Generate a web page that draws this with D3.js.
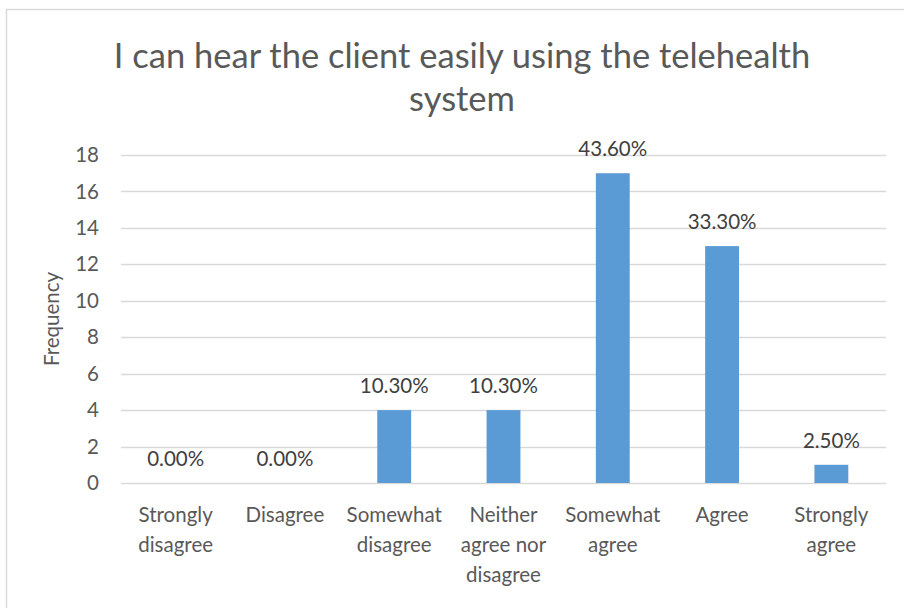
<!DOCTYPE html>
<html>
<head>
<meta charset="utf-8">
<script src="https://cdn.jsdelivr.net/npm/d3@7"></script>
<style>
  html, body { margin: 0; padding: 0; background: #fff; }
  svg { display: block; font-family: Lato, "Open Sans", sans-serif; }
</style>
</head>
<body>
<svg id="chart" width="904" height="608"></svg>
<script>
// Survey responses: "I can hear the client easily using the telehealth system"
const categories = [
  ["Strongly", "disagree"],
  ["Disagree"],
  ["Somewhat", "disagree"],
  ["Neither", "agree nor", "disagree"],
  ["Somewhat", "agree"],
  ["Agree"],
  ["Strongly", "agree"]
];
const frequencies = [0, 0, 4, 4, 17, 13, 1];
const percentLabels = ["0.00%", "0.00%", "10.30%", "10.30%", "43.60%", "33.30%", "2.50%"];
const yTicks = [0, 2, 4, 6, 8, 10, 12, 14, 16, 18];

const titleLines = ["I can hear the client easily using the telehealth", "system"];

const svg = d3.select("#chart");
const textColor = "#595959";
const margin = { left: 121, right: 18, top: 155, bottom: 125 };
const width = 904, height = 608;

// Chart area frame
svg.append("rect")
  .attr("x", 6.5).attr("y", 9.5)
  .attr("width", 910).attr("height", 610)
  .attr("fill", "none").attr("stroke", "#d9d9d9").attr("stroke-width", 1.5);

const x = d3.scaleBand()
  .domain(d3.range(categories.length))
  .range([margin.left, width - margin.right]);

const y = d3.scaleLinear()
  .domain([0, 18])
  .range([height - margin.bottom, margin.top]);

// Title
svg.append("text")
  .attr("text-anchor", "middle")
  .attr("fill", textColor)
  .attr("font-size", 34.5)
  .selectAll("tspan")
  .data(titleLines)
  .join("tspan")
  .attr("x", 462)
  .attr("y", (d, i) => 68 + i * 43)
  .text(d => d);

// Gridlines
svg.append("g")
  .selectAll("line")
  .data(yTicks)
  .join("line")
  .attr("x1", margin.left).attr("x2", width - margin.right)
  .attr("y1", d => Math.round(y(d)) + 0.5).attr("y2", d => Math.round(y(d)) + 0.5)
  .attr("stroke", "#d9d9d9").attr("stroke-width", 1.5);

// Y axis tick labels
const yAxis = d3.axisLeft(y).tickValues(yTicks).tickSize(0).tickPadding(0);
const yg = svg.append("g").attr("transform", `translate(${margin.left - 22},0)`).call(yAxis);
yg.select(".domain").remove();
yg.selectAll("text")
  .attr("fill", textColor)
  .attr("font-size", 20.5)
  .attr("font-family", "Lato, 'Open Sans', sans-serif");

// Y axis title
svg.append("text")
  .attr("transform", `translate(59,${(y(0) + y(18)) / 2}) rotate(-90)`)
  .attr("text-anchor", "middle")
  .attr("fill", textColor)
  .attr("font-size", 20.5)
  .text("Frequency");

// Bars
const barWidth = x.bandwidth() * 0.31;
svg.append("g")
  .selectAll("rect")
  .data(frequencies)
  .join("rect")
  .attr("x", (d, i) => x(i) + x.bandwidth() / 2 - barWidth / 2)
  .attr("width", barWidth)
  .attr("y", d => y(d))
  .attr("height", d => y(0) - y(d))
  .attr("fill", "#5b9bd5");

// Value labels
svg.append("g")
  .selectAll("text")
  .data(frequencies)
  .join("text")
  .attr("x", (d, i) => x(i) + x.bandwidth() / 2)
  .attr("y", d => y(d) - 17)
  .attr("text-anchor", "middle")
  .attr("fill", "#404040")
  .attr("font-size", 20.5)
  .text((d, i) => percentLabels[i]);

// Category labels
svg.append("g")
  .selectAll("text")
  .data(categories)
  .join("text")
  .attr("text-anchor", "middle")
  .attr("fill", textColor)
  .attr("font-size", 20.5)
  .each(function (lines, i) {
    d3.select(this).selectAll("tspan")
      .data(lines)
      .join("tspan")
      .attr("x", x(i) + x.bandwidth() / 2)
      .attr("y", (d, j) => 522 + j * 30)
      .text(d => d);
  });
</script>
</body>
</html>
